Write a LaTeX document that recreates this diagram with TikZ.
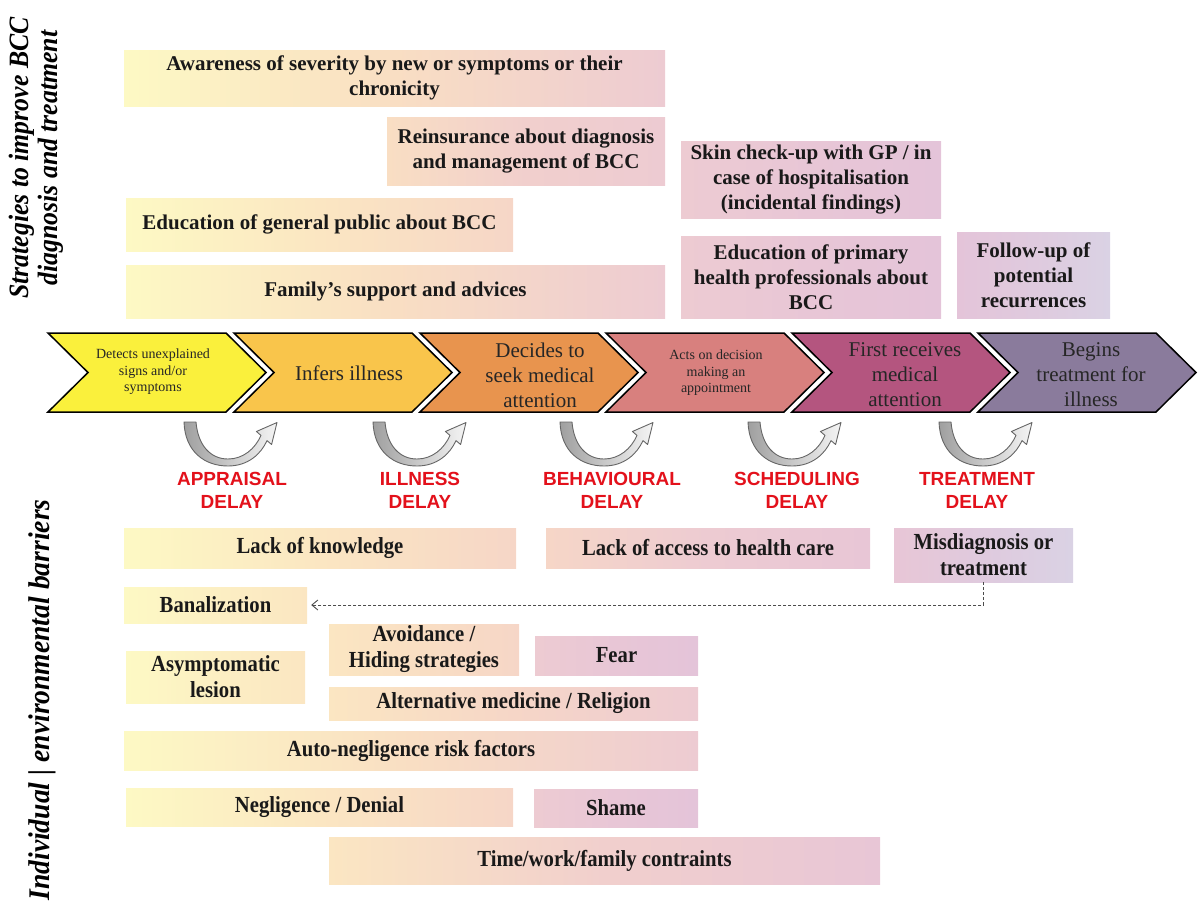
\documentclass[tikz,border=0pt]{standalone}
\usepackage{fontspec}
\setmainfont{Liberation Serif}
\newfontfamily\sansf{Liberation Sans}
\newfontfamily\condf[FakeStretch=0.9]{Liberation Serif}
\newfontfamily\sidef[FakeStretch=0.92]{Liberation Serif}
\usetikzlibrary{arrows.meta}

\definecolor{Y0}{HTML}{FDF9C4}
\definecolor{Y1}{HTML}{FCEFC3}
\definecolor{Y2}{HTML}{FBE6C2}
\definecolor{P0}{HTML}{F9DEC3}
\definecolor{P1}{HTML}{F6D6C7}
\definecolor{P2}{HTML}{F1CFCD}
\definecolor{K0}{HTML}{EDCBD2}
\definecolor{K1}{HTML}{E8C6D6}
\definecolor{K2}{HTML}{E4C4D9}
\definecolor{L1}{HTML}{DFCADE}
\definecolor{L2}{HTML}{DAD2E4}
\definecolor{ch1}{HTML}{FAF03C}
\definecolor{ch2}{HTML}{F9C54B}
\definecolor{ch3}{HTML}{E8944E}
\definecolor{ch4}{HTML}{D8807E}
\definecolor{ch5}{HTML}{B4557F}
\definecolor{ch6}{HTML}{8A7B9C}
\definecolor{dred}{HTML}{E3111B}

\tikzset{
  gbox/.style={inner sep=0pt, align=center, text=black!90},
  topt/.style={font=\bfseries\fontsize{21}{25}\selectfont},
  bott/.style={font=\condf\bfseries\fontsize{23}{26}\selectfont},
  chev/.style={draw=black, line width=1.5pt, line join=miter},
  chbig/.style={align=center, font=\fontsize{21}{25}\selectfont, text=black!85},
  chsmall/.style={align=center, font=\fontsize{14}{16.5}\selectfont, text=black!85},
  delay/.style={align=center, font=\sansf\bfseries\fontsize{19}{23}\selectfont, text=dred},
  side/.style={rotate=90, align=center, font=\sidef\bfseries\itshape\fontsize{28}{29}\selectfont},
  uarrow/.style={left color=gray!75, right color=gray!8, draw=black!60, line width=0.9pt, line join=round},
  conn/.style={draw=black!70, line width=0.9pt, dash pattern=on 3pt off 2pt, -{Straight Barb[length=6pt,width=10pt]}, shorten >=4pt},
}

\newcommand\gb[7]{%
  \pgfmathsetmacro\gbw{#4-#2}\pgfmathsetmacro\gbh{#5-#3}%
  \node[gbox, #6, minimum width=\gbw pt, minimum height=\gbh pt] (#1) at ({(#2+#4)/2},{(#3+#5)/2}) {#7};}

\begin{document}
\begin{tikzpicture}[x=1pt,y=-1pt]
\useasboundingbox (0,0) rectangle (1199,913);

% side labels
\node[side] (sideA) at (36,158) {Strategies to improve BCC\\diagnosis and treatment};
\node[side, font=\sidef\bfseries\itshape\fontsize{30}{30}\selectfont] (sideB) at (42,700) {Individual | environmental barriers};

% top boxes
\gb{aw}{124}{50}{665}{106}{topt, left color=Y0, right color=K0, middle color=P0}{Awareness of severity by new or symptoms or their\\chronicity}
\gb{re}{387}{117}{665}{185}{topt, left color=P0, right color=K0, middle color=P2}{Reinsurance about diagnosis\\and management of BCC}
\gb{edg}{126}{198}{513}{251}{topt, left color=Y0, right color=P1, middle color=Y2}{Education of general public about BCC}
\gb{fam}{126}{265}{665}{318}{topt, left color=Y0, right color=K0, middle color=P0}{Family’s support and advices}
\gb{skin}{681}{141}{941}{218}{topt, left color=K0, right color=K2, middle color=K1}{Skin check-up with GP / in\\case of hospitalisation\\(incidental findings)}
\gb{edp}{681}{236}{941}{318}{topt, left color=K0, right color=K2, middle color=K1}{Education of primary\\health professionals about\\BCC}
\gb{fol}{957}{232}{1110}{318}{topt, left color=K2, right color=L2, middle color=L1}{Follow-up of\\potential\\recurrences}

% chevrons
\foreach \i/\c in {0/ch1,1/ch2,2/ch3,3/ch4,4/ch5,5/ch6}{
  \pgfmathsetmacro\L{48+186*\i}
  \draw[chev, fill=\c] (\L,333) -- (\L+178,333) -- (\L+218,372.5) -- (\L+178,412) -- (\L,412) -- (\L+40,372.5) -- cycle;
}
\node[chsmall] (c1) at (153,372) {Detects unexplained\\signs and/or\\symptoms};
\node[chbig] (c2) at (349,373) {Infers illness};
\node[chbig] (c3) at (540,375) {Decides to\\seek medical\\attention};
\node[chsmall] (c4) at (716,373) {Acts on decision\\making an\\appointment};
\node[chbig] (c5) at (905,375) {First receives\\medical\\attention};
\node[chbig] (c6) at (1091,375) {Begins\\treatment for\\illness};

% U-arrows
\foreach \cx in {231,420,607,795,986}{
  \path[uarrow] (\cx-47,422)
     .. controls (\cx-46,452) and (\cx-26,466) .. (\cx-3,466)
     .. controls (\cx+17,466) and (\cx+30,454) .. (\cx+36,440.6)
     -- (\cx+40.6,444.5) -- (\cx+46,422.5) -- (\cx+25.4,431.5) -- (\cx+30,435.4)
     .. controls (\cx+24,449) and (\cx+12,459) .. (\cx-3,459)
     .. controls (\cx-20,459) and (\cx-33,446) .. (\cx-35,422) -- cycle;
}

% delay labels
\node[delay] (d1) at (232,490) {APPRAISAL\\DELAY};
\node[delay] (d2) at (420,490) {ILLNESS\\DELAY};
\node[delay] (d3) at (612,490) {BEHAVIOURAL\\DELAY};
\node[delay] (d4) at (797,490) {SCHEDULING\\DELAY};
\node[delay] (d5) at (977,490) {TREATMENT\\DELAY};

% bottom boxes
\gb{lk}{124}{528}{516}{568}{bott, left color=Y0, right color=P1, middle color=Y2}{Lack of knowledge}
\gb{la}{546}{528}{870}{568}{bott, left color=P1, right color=K1, middle color=K0}{Lack of access to health care}
\gb{mis}{894}{528}{1073}{582}{bott, left color=K1, right color=L2, middle color=L1}{Misdiagnosis or\\treatment}
\gb{ban}{124}{587}{307}{623}{bott, left color=Y0, right color=Y2, middle color=Y1}{Banalization}
\gb{avo}{329}{624}{519}{675}{bott, left color=Y2, right color=P1, middle color=P0}{Avoidance /\\Hiding strategies}
\gb{fear}{535}{636}{698}{675}{bott, left color=K0, right color=K2, middle color=K1}{Fear}
\gb{asy}{126}{651}{305}{703}{bott, left color=Y0, right color=Y2, middle color=Y1}{Asymptomatic\\lesion}
\gb{alt}{329}{687}{698}{720}{bott, left color=Y2, right color=K0, middle color=P1}{Alternative medicine / Religion}
\gb{auto}{124}{731}{698}{770}{bott, left color=Y0, right color=K0, middle color=P0}{Auto-negligence risk factors}
\gb{neg}{126}{788}{513}{826}{bott, left color=Y0, right color=P1, middle color=Y2}{Negligence / Denial}
\gb{shame}{534}{789}{698}{827}{bott, left color=K0, right color=K2, middle color=K1}{Shame}
\gb{time}{329}{837}{880}{884}{bott, left color=Y2, right color=K1, middle color=P2}{Time/work/family contraints}

% dashed connector
\draw[conn] (mis.south) |- (ban.east);
\end{tikzpicture}
\end{document}
